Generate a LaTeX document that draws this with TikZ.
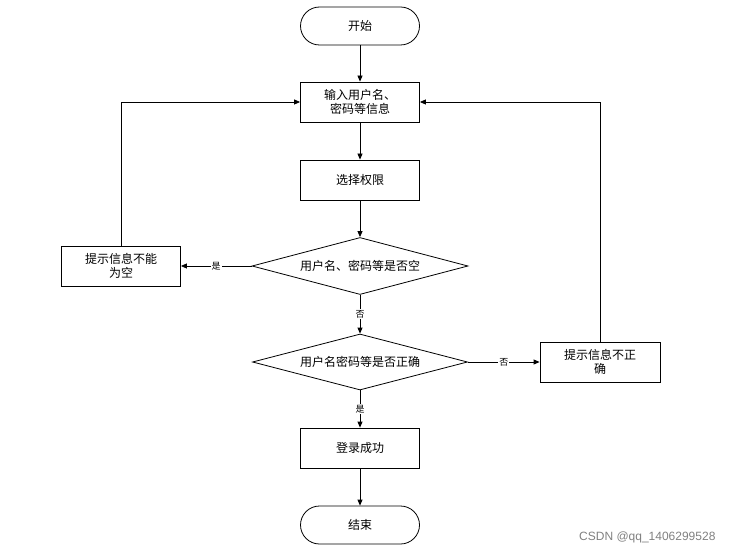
\documentclass[tikz,border=0pt]{standalone}
\usepackage{fontspec}
\newfontfamily\cjk{Noto Sans CJK SC}
\usetikzlibrary{shapes.geometric,arrows.meta}
\begin{document}
\begin{tikzpicture}[x=1pt,y=-1pt,
 box/.style={draw,line width=0.8pt,minimum width=119pt,minimum height=40pt,align=center,font=\cjk\fontsize{12}{14}\selectfont,inner sep=1pt},
 term/.style={box,rounded corners=19pt,minimum height=38pt},
 dia/.style={draw,line width=0.8pt,diamond,aspect=3.8,minimum width=216pt,minimum height=57pt,inner sep=0pt,font=\cjk\fontsize{12}{14}\selectfont},
 lab/.style={fill=white,inner sep=1pt,font=\cjk\fontsize{9}{10}\selectfont},
 arr/.style={draw,line width=0.8pt,-{Triangle[length=6pt,width=5pt]}}]
\useasboundingbox (0,0) rectangle (733,556);
\node[term] (s) at (360,26) {开始};
\node[box] (in) at (360,102) {输入用户名、\\密码等信息};
\node[box] (sel) at (360,180) {选择权限};
\node[dia] (d1) at (360,266) {用户名、密码等是否空};
\node[box] (e1) at (121,266) {提示信息不能\\为空};
\node[dia,minimum width=215pt,minimum height=56pt] (d2) at (360,362) {用户名密码等是否正确};
\node[box,minimum width=120pt] (e2) at (600,362) {提示信息不正\\确};
\node[box] (ok) at (360,448) {登录成功};
\node[term] (end) at (360,525) {结束};
\path[arr] (s) -- (in);
\path[arr] (in) -- (sel);
\path[arr] (sel) -- (d1);
\path[arr] (d1) -- node[lab]{是} (e1);
\path[arr] (d1) -- node[lab]{否} (d2);
\path[arr] (d2) -- node[lab]{否} (e2);
\path[arr] (d2) -- node[lab]{是} (ok);
\path[arr] (ok) -- (end);
\path[arr] (e1.north) |- (in.west);
\path[arr] (e2.north) |- (in.east);
\node[anchor=east,text=gray,font=\fontspec{Liberation Sans}\fontsize{12}{14}\selectfont] (wm) at (719,537) {CSDN @qq\_1406299528};
\end{tikzpicture}
\end{document}
